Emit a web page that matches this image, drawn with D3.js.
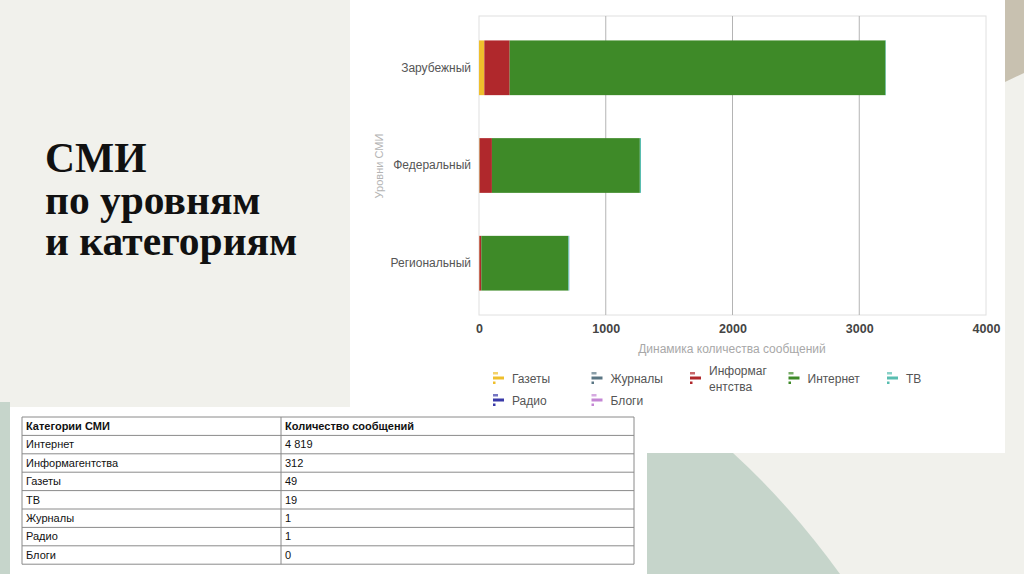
<!DOCTYPE html>
<head>
  <meta charset="utf-8">
  <title>СМИ по уровням и категориям</title>
  <style>
    body { margin: 0; background: #f1f1ec; }
    svg { display: block; }
  </style>
</head>
<body>
  <script src="https://cdn.jsdelivr.net/npm/d3@7/dist/d3.min.js"></script>
  <script>
    // chart data
    var levels = ["Зарубежный", "Федеральный", "Региональный"];
    var seriesNames = ["Газеты", "Журналы", "Информагентства", "Интернет", "ТВ", "Радио", "Блоги"];
    var gazety   = [42, 4, 3];
    var zhurnaly = [0, 1, 0];
    var infoag   = [200, 97, 15];
    var internet = [2965, 1167, 687];
    var tv       = [4, 9, 6];
    var radio    = [0, 0, 1];
    var blogi    = [0, 0, 0];
    var xTicks = [0, 1000, 2000, 3000, 4000];

    // table data
    var tableHeader = ["Категории СМИ", "Количество сообщений"];
    var tableCategories = ["Интернет", "Информагентства", "Газеты", "ТВ", "Журналы", "Радио", "Блоги"];
    var tableCounts = ["4 819", "312", "49", "19", "1", "1", "0"];

    var colors = ["#efbf2c", "#5a7684", "#b0282c", "#3e8a28", "#58bdb0", "#3a3aa8", "#c486d4"];

    var w = 1024, h = 574;
    var svg = d3.select("body").append("svg").attr("width", w).attr("height", h);

    // slide background pieces
    svg.append("rect").attr("x", 0).attr("y", 0).attr("width", w).attr("height", h).attr("fill", "#f1f1ec");
    svg.append("polygon").attr("points", "1005,0 1024,0 1024,73 1005,82").attr("fill", "#c8c1b0");
    svg.append("rect").attr("x", 0).attr("y", 402).attr("width", 10).attr("height", h - 402).attr("fill", "#c6d5cb");
    svg.append("rect").attr("x", 350).attr("y", 0).attr("width", 655).attr("height", 453).attr("fill", "#ffffff");
    svg.append("rect").attr("x", 10).attr("y", 407).attr("width", 637).attr("height", h - 407).attr("fill", "#ffffff");
    svg.append("path")
      .attr("d", "M647,453 L733,453 Q790,505 840,574 L647,574 Z")
      .attr("fill", "#c6d5cb");

    // title on the left
    var title = svg.append("text")
      .attr("font-family", "'Liberation Serif', serif")
      .attr("font-weight", "bold")
      .attr("font-size", 41.5)
      .attr("fill", "#111");
    ["СМИ", "по уровням", "и категориям"].forEach(function (t, i) {
      title.append("tspan").attr("x", 45).attr("y", 172 + i * 41.5).text(t);
    });

    // scales
    var x = d3.scaleLinear().domain([0, 4000]).range([479, 986]);
    var y = d3.scaleBand().domain(levels).range([16, 315]).paddingInner(0.44).paddingOuter(0.25);

    // plot frame + grid
    var g = svg.append("g");
    g.append("rect").attr("x", x(0)).attr("y", 16).attr("width", x(4000) - x(0)).attr("height", 299)
      .attr("fill", "none").attr("stroke", "#e0e0e0");
    g.selectAll(".grid").data(xTicks.slice(1, -1)).enter().append("line")
      .attr("x1", function (d) { return x(d); }).attr("x2", function (d) { return x(d); })
      .attr("y1", 16).attr("y2", 315)
      .attr("stroke", "#b4b4b4");

    // stacked bars
    var valuesBySeries = [gazety, zhurnaly, infoag, internet, tv, radio, blogi];
    var rows = levels.map(function (lv, i) {
      var r = { level: lv };
      seriesNames.forEach(function (s, j) { r[s] = valuesBySeries[j][i]; });
      return r;
    });
    var stack = d3.stack().keys(seriesNames)(rows);

    g.selectAll(".series").data(stack).enter().append("g")
      .attr("fill", function (d, i) { return colors[i]; })
      .selectAll("rect").data(function (d) { return d; }).enter().append("rect")
      .attr("x", function (d) { return x(d[0]); })
      .attr("y", function (d) { return y(d.data.level); })
      .attr("width", function (d) { return x(d[1]) - x(d[0]); })
      .attr("height", y.bandwidth());

    // x axis
    var xAxis = d3.axisBottom(x).tickValues(xTicks).tickFormat(d3.format("d")).tickSize(0).tickPadding(9);
    var xg = svg.append("g").attr("transform", "translate(0,315)").call(xAxis);
    xg.select(".domain").remove();
    xg.selectAll("text").attr("font-family", "'Liberation Sans', Arial, sans-serif")
      .attr("font-size", 12.5).attr("font-weight", "bold").attr("fill", "#444");

    svg.append("text").attr("x", 732).attr("y", 353).attr("text-anchor", "middle")
      .attr("font-family", "'Liberation Sans', Arial, sans-serif").attr("font-size", 12)
      .attr("fill", "#a8a8a8").text("Динамика количества сообщений");

    // y axis
    var yAxis = d3.axisLeft(y).tickSize(0).tickPadding(8);
    var yg = svg.append("g").attr("transform", "translate(" + x(0) + ",0)").call(yAxis);
    yg.select(".domain").remove();
    yg.selectAll("text").attr("font-family", "'Liberation Sans', Arial, sans-serif")
      .attr("font-size", 12).attr("fill", "#555");

    svg.append("text").attr("transform", "translate(383,166) rotate(-90)").attr("text-anchor", "middle")
      .attr("font-family", "'Liberation Sans', Arial, sans-serif").attr("font-size", 11)
      .attr("fill", "#b4b4b4").text("Уровни СМИ");

    // legend
    var leg = svg.append("g").attr("font-family", "'Liberation Sans', Arial, sans-serif")
      .attr("font-size", 12).attr("fill", "#555");
    seriesNames.forEach(function (s, i) {
      var col = i % 5, row = Math.floor(i / 5);
      var lx = 493 + col * 98.5, ly = 378 + row * 22;
      var item = leg.append("g").attr("transform", "translate(" + lx + "," + ly + ")");
      item.append("rect").attr("x", 0).attr("y", -6).attr("width", 5).attr("height", 2.5).attr("fill", colors[i]).attr("opacity", 0.7);
      item.append("rect").attr("x", 0).attr("y", -1.5).attr("width", 11).attr("height", 3).attr("fill", colors[i]);
      item.append("rect").attr("x", 0).attr("y", 3.5).attr("width", 2.5).attr("height", 2.5).attr("fill", colors[i]);
      var lines = s.length > 9 ? [s.slice(0, 8), s.slice(8)] : [s];
      var t = item.append("text").attr("x", 19);
      lines.forEach(function (l, k) {
        t.append("tspan").attr("x", 19)
          .attr("y", lines.length > 1 ? -3 + k * 16 : 4.5)
          .text(l);
      });
    });

    // table
    var tx0 = 22, tx1 = 281, tx2 = 634, ty0 = 417, rowH = 18.4;
    var tbl = svg.append("g").attr("font-family", "'Liberation Sans', Arial, sans-serif").attr("font-size", 11);
    var tableRows = [tableHeader].concat(tableCategories.map(function (c, i) { return [c, tableCounts[i]]; }));
    tbl.selectAll(".cellline").data(d3.range(tableRows.length + 1)).enter().append("line")
      .attr("x1", tx0).attr("x2", tx2)
      .attr("y1", function (d) { return ty0 + d * rowH; }).attr("y2", function (d) { return ty0 + d * rowH; })
      .attr("stroke", "#8a8a8a");
    [tx0, tx1, tx2].forEach(function (cx) {
      tbl.append("line").attr("x1", cx).attr("x2", cx).attr("y1", ty0).attr("y2", ty0 + tableRows.length * rowH)
        .attr("stroke", "#8a8a8a");
    });
    tableRows.forEach(function (r, i) {
      [tx0, tx1].forEach(function (cx, k) {
        tbl.append("text").attr("x", cx + 4).attr("y", ty0 + i * rowH + 13)
          .attr("font-weight", i === 0 ? "bold" : "normal")
          .attr("fill", "#111").text(r[k]);
      });
    });
  </script>
</body>
